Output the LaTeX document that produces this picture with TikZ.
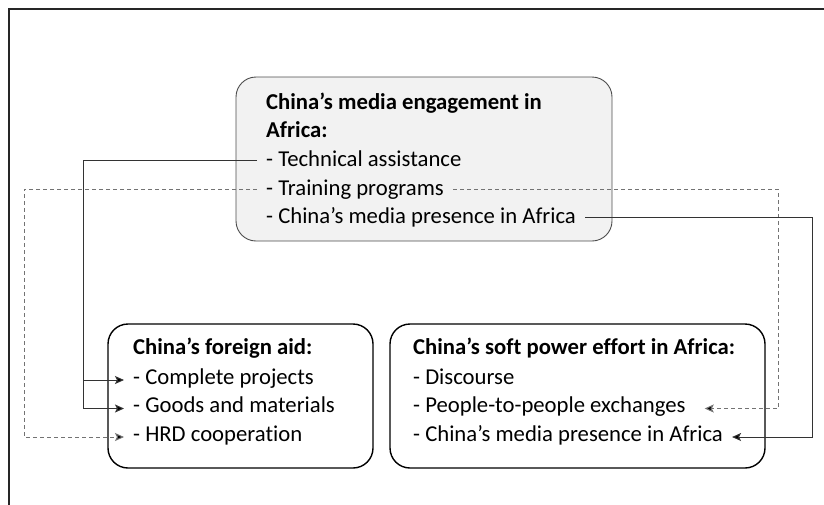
\documentclass[tikz,border=0pt]{standalone}
\usepackage{fontspec}
\setmainfont{Carlito}[Ligatures=NoCommon]
\usetikzlibrary{arrows.meta}

\begin{document}
\begin{tikzpicture}
[x=1pt,y=-1pt,
  boxDecorate/.style={shape=rectangle,rounded corners=20pt,draw=black,line width=1.4pt,fill=white,inner sep=0pt},
  topBoxDecorate/.style={boxDecorate,draw=black!70,line width=0.9pt,fill=black!5},
  itemDecorate/.style={anchor=base west,inner xsep=9pt,inner ysep=0pt,text height=14pt,text depth=6pt,font=\fontsize{22.7}{28.5}\selectfont},
  sourceDecorate/.style={itemDecorate,text height=16pt,text depth=4pt},
  titleDecorate/.style={anchor=base west,inner sep=0pt,align=left,font=\fontsize{22.7}{28.5}\selectfont\bfseries},
  lineDecorate/.style={-{Stealth[length=9pt,width=8pt,inset=2pt,fill=black]},line width=1pt,draw=black!80},
  dashDecorate/.style={lineDecorate,draw=black!55,dash pattern=on 4pt off 3pt}]
\useasboundingbox (0,0) rectangle (824,504);
\clip (0,0) rectangle (824,504);
%% frame
\draw[line width=2pt,black!85] (9,9) rectangle (840,520);
%% boxes
\node (mediaBox) at (424,159) [topBoxDecorate,minimum width=376pt,minimum height=164pt] {};
\node (aidBox) at (240.5,396) [boxDecorate,minimum width=265pt,minimum height=144pt] {};
\node (softBox) at (577.5,396) [boxDecorate,minimum width=375pt,minimum height=144pt] {};
%% titles (base is the last line)
\node (mediaTitle) at (266,137.5) [titleDecorate] {China’s media engagement in\\Africa:};
\node (aidTitle) at (133,354) [titleDecorate] {China’s foreign aid:};
\node (softTitle) at (413,354) [titleDecorate] {China’s soft power effort in Africa:};
%% items
\foreach \nodename/\x/\y/\txt in {
  tech/257/166.5/- Technical assistance,
  training/257/195/- Training programs,
  presence/257/223.5/- China’s media presence in Africa}
{
  \node (\nodename) at (\x,\y) [sourceDecorate] {\txt};
}
\foreach \nodename/\x/\y/\txt in {
  complete/124/384/- Complete projects,
  goods/124/412.5/- Goods and materials,
  hrd/124/441/- HRD cooperation,
  discourse/404/384/- Discourse,
  people/404/412.5/- People-to-people exchanges,
  softPresence/404/441/- China’s media presence in Africa}
{
  \node (\nodename) at (\x,\y) [itemDecorate] {\txt};
}
%% bends
\coordinate (solidLeft) at (83,0);
\coordinate (dashLeft) at (24,0);
\coordinate (dashRight) at (778,0);
\coordinate (solidRight) at (812,0);
%% connectors
\draw[lineDecorate] (tech.west) -| (solidLeft |- complete.west) -- (complete.west);
\draw[lineDecorate] (solidLeft |- complete.west) |- (goods.west);
\draw[dashDecorate] (training.west) -| (dashLeft |- hrd.west) -- (hrd.west);
\draw[dashDecorate] (training.east) -| (dashRight |- people.east) -- ([xshift=10pt]people.east);
\draw[lineDecorate] (presence.east) -| (solidRight |- softPresence.east) -- (softPresence.east);
\end{tikzpicture}
\end{document}
